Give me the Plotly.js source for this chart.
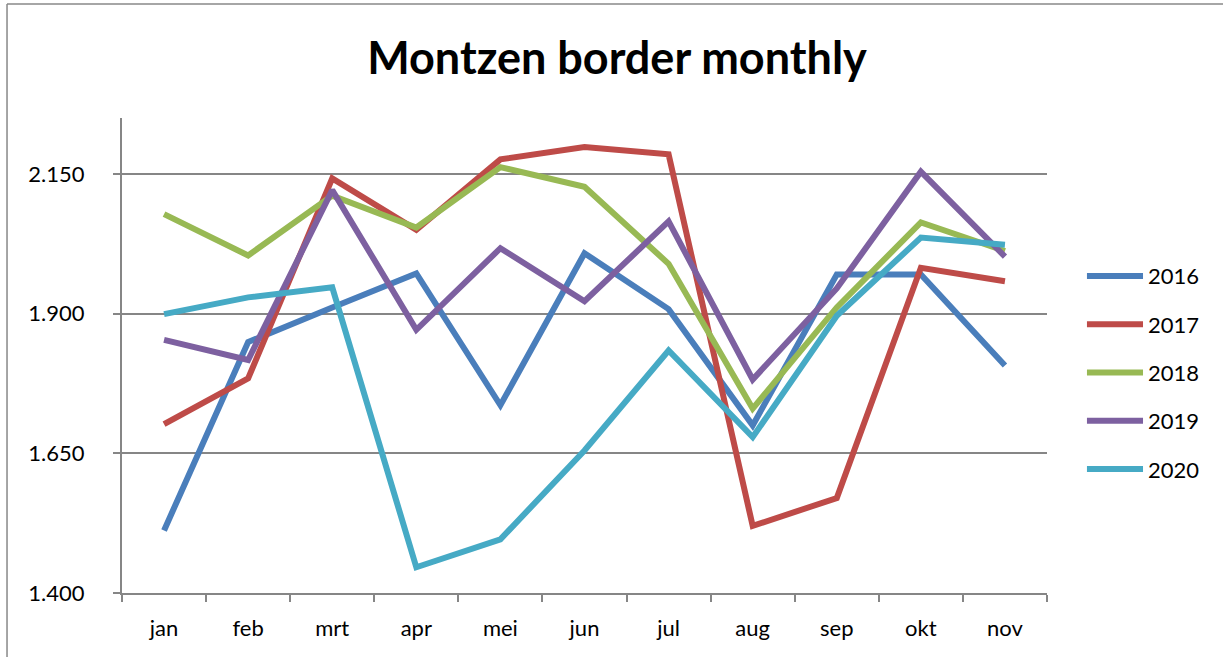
<!DOCTYPE html>
<html>
<head>
<meta charset="utf-8">
<script src="https://cdn.plot.ly/plotly-3.0.1.min.js"></script>
<style>
html,body{margin:0;padding:0;background:#fff;}
#chart{width:1223px;height:657px;}
</style>
</head>
<body>
<div id="chart"></div>
<script>
const months = ["jan","feb","mrt","apr","mei","jun","jul","aug","sep","okt","nov"];
const years = ["2016","2017","2018","2019","2020"];
const s2016 = [1.512,1.849,1.911,1.972,1.736,2.008,1.908,1.700,1.970,1.970,1.807];
const s2017 = [1.702,1.784,2.142,2.050,2.176,2.198,2.185,1.520,1.570,1.982,1.958];
const s2018 = [2.078,2.004,2.111,2.054,2.162,2.127,1.989,1.730,1.911,2.063,2.012];
const s2019 = [1.853,1.817,2.121,1.871,2.017,1.922,2.065,1.782,1.945,2.154,2.002];
const s2020 = [1.899,1.929,1.947,1.446,1.496,1.655,1.834,1.679,1.896,2.036,2.023];
const colors = ["#4a7ebb","#be4b48","#98b954","#7d60a0","#46aac5"];
const yTickVals = [1.4,1.65,1.9,2.15];
const yTickText = ["1.400","1.650","1.900","2.150"];

const series = [s2016,s2017,s2018,s2019,s2020];
const font = "Lato, 'Open Sans', sans-serif";
const traces = series.map((s,i)=>({
  type:"scatter", mode:"lines", x:months, y:s, name:years[i],
  line:{color:colors[i], width:6}, showlegend:false
}));

// custom legend (wide line samples like the original)
const legX0 = 1.0432, legX1 = 1.1038, legTextX = 1.1075;
const legTop = 0.6674, legStep = 0.1016;
const shapes = [
  {type:"line", xref:"paper", yref:"paper", x0:-0.1243, x1:-0.1243, y0:-0.5, y1:1.24, line:{color:"#888", width:1.5}},
  {type:"line", xref:"paper", yref:"paper", x0:-0.1243, x1:1.5, y0:1.24, y1:1.24, line:{color:"#888", width:1.5}}
];
const annotations = [];
years.forEach((yr,i)=>{
  const yy = legTop - i*legStep;
  shapes.push({type:"line", xref:"paper", yref:"paper", x0:legX0, x1:legX1, y0:yy, y1:yy,
    line:{color:colors[i], width:6}});
  annotations.push({xref:"paper", yref:"paper", x:legTextX, y:yy, text:yr, showarrow:false,
    xanchor:"left", yanchor:"middle", font:{family:font, size:22, color:"#000"}});
});

const layout = {
  width:1223, height:657,
  margin:{l:122, r:176, t:118, b:64},
  paper_bgcolor:"#fff", plot_bgcolor:"#fff",
  font:{family:font, color:"#000", size:22},
  title:{text:"<b>Montzen border monthly</b>", font:{family:font, size:45, color:"#000"},
    xref:"container", yref:"container", x:0.5045, y:0.912, xanchor:"center", yanchor:"middle"},
  xaxis:{type:"category", range:[-0.5,10.5], showline:true, linecolor:"#868686", linewidth:2,
    ticks:"outside", tickson:"boundaries", ticklen:7, tickcolor:"#868686", tickwidth:2,
    ticklabelstandoff:15, showgrid:false, zeroline:false, tickfont:{size:22, family:font}},
  yaxis:{range:[1.4,2.25], tickvals:yTickVals, ticktext:yTickText, showline:true,
    linecolor:"#868686", linewidth:2, ticks:"outside", ticklen:7, tickcolor:"#868686", tickwidth:2,
    showgrid:true, gridcolor:"#868686", gridwidth:2, zeroline:false,
    ticklabelstandoff:24, tickfont:{size:22, family:font}},
  showlegend:false,
  shapes:shapes,
  annotations:annotations
};
Plotly.newPlot("chart", traces, layout, {displayModeBar:false, staticPlot:true});
</script>
</body>
</html>
